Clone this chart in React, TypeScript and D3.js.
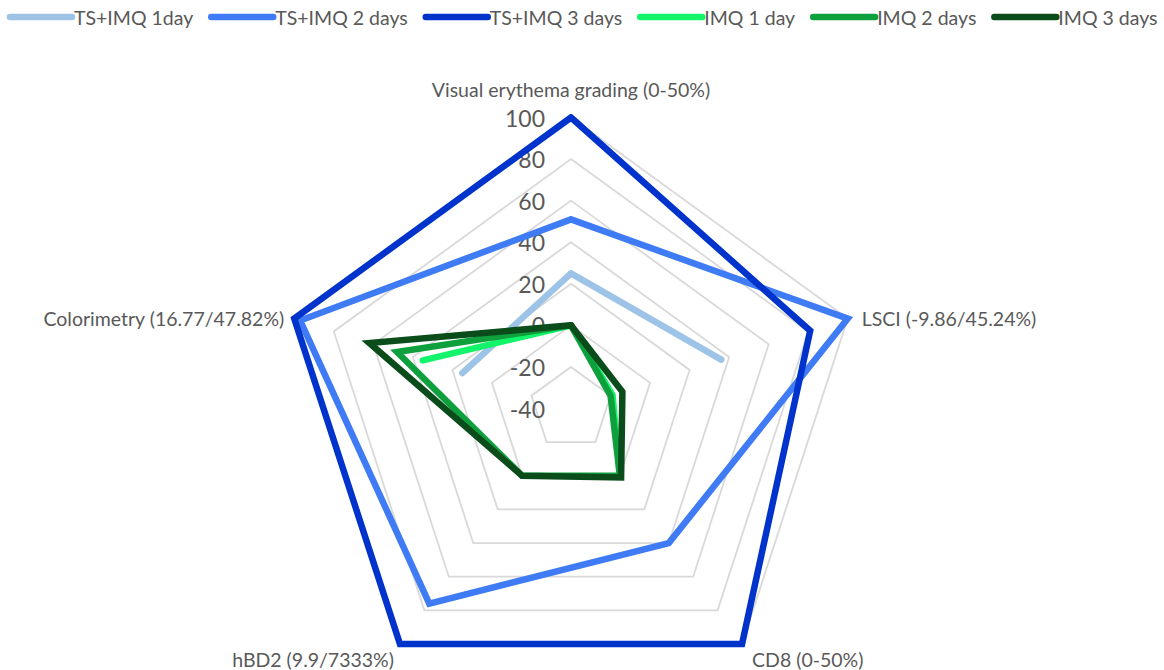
import React from "react";
import * as d3 from "d3";

const axes = [
  "Visual erythema grading (0-50%)",
  "LSCI (-9.86/45.24%)",
  "CD8 (0-50%)",
  "hBD2 (9.9/7333%)",
  "Colorimetry (16.77/47.82%)",
];
const seriesNames = ["TS+IMQ 1day", "TS+IMQ 2 days", "TS+IMQ 3 days", "IMQ 1 day", "IMQ 2 days", "IMQ 3 days"];
const seriesColors = ["#9DC3E6", "#3F7BF5", "#0033CC", "#12F56A", "#0FA03E", "#0A4D1B"];
const tsImq1 = [25, 36, null, null, 15];
const tsImq2 = [51, 100, 40, 76, 97];
const tsImq3 = [100, 81, 100, 100, 100];
const imq1 = [0, -19, 0, null, 35];
const imq2 = [0, -20, 0, 0, 48];
const imq3 = [0, -14, 1, 0, 62];
const seriesValues: (number | null)[][] = [tsImq1, tsImq2, tsImq3, imq1, imq2, imq3];
const ticks = [-40, -20, 0, 20, 40, 60, 80, 100];

const W = 1164, H = 670;
const cx = 571, cy = 408.5, R = 291;
const FONT = "Lato, 'Open Sans', sans-serif";
const LABEL_SIZE = 19.5;

function measure(text: string, font: string) {
  const c = document.createElement("canvas").getContext("2d")!;
  c.font = font;
  return c.measureText(text).width;
}

export default function App() {
  const r = d3.scaleLinear().domain([-40, 100]).range([0, R]);
  const n = axes.length;
  const ang = (i: number) => (i * 2 * Math.PI) / n;
  const pt = (i: number, v: number): [number, number] => [
    cx + r(v) * Math.sin(ang(i)),
    cy - r(v) * Math.cos(ang(i)),
  ];

  const lineGen = d3
    .lineRadial<number | null>()
    .angle((_, i) => ang(i % n))
    .radius((d) => r(d as number))
    .defined((d) => d !== null)
    .curve(d3.curveLinear);

  const ringGen = d3
    .lineRadial<number>()
    .angle((_, i) => ang(i))
    .radius((d) => r(d))
    .curve(d3.curveLinearClosed);

  // legend layout
  const legendFont = `${LABEL_SIZE}px ${FONT}`;
  const items: { x: number; name: string; color: string }[] = [];
  let x = 10;
  seriesNames.forEach((name, i) => {
    items.push({ x, name, color: seriesColors[i] });
    x += 62 + 2 + measure(name, legendFont) + 18;
  });

  const labelPos = (i: number) => {
    const [px, py] = pt(i, 100);
    if (i === 0) return { x: px, y: py - 28, anchor: "middle" };
    if (i === 1) return { x: px + 14, y: py, anchor: "start" };
    if (i === 2) return { x: px + 10, y: py + 16, anchor: "start" };
    if (i === 3) return { x: px - 6, y: py + 16, anchor: "end" };
    return { x: px - 10, y: py, anchor: "end" };
  };

  return (
    <svg width={W} height={H} style={{ position: "absolute", left: 0, top: 0, background: "#fff" }}>
      <rect width={W} height={H} fill="#fff" />
      {/* legend */}
      {items.map((it) => (
        <g key={it.name}>
          <line x1={it.x} x2={it.x + 62} y1={17} y2={17} stroke={it.color} strokeWidth={6.5} strokeLinecap="round" />
          <text x={it.x + 64} y={17} dominantBaseline="central" fontFamily={FONT} fontSize={LABEL_SIZE} fill="#595959">
            {it.name}
          </text>
        </g>
      ))}
      {/* grid rings */}
      <g transform={`translate(${cx},${cy})`}>
        {ticks.slice(1).map((t) => (
          <path key={t} d={ringGen(d3.range(n).map(() => t)) as string} fill="none" stroke="#D9D9D9" strokeWidth={1.8} />
        ))}
      </g>
      {/* tick labels */}
      {ticks.map((t) => (
        <text key={t} x={cx - 26} y={cy - r(t)} textAnchor="end" dominantBaseline="central" fontFamily={FONT} fontSize={23} fill="#595959">
          {t}
        </text>
      ))}
      {/* axis labels */}
      {axes.map((a, i) => {
        const p = labelPos(i);
        return (
          <text key={a} x={p.x} y={p.y} textAnchor={p.anchor as any} dominantBaseline="central" fontFamily={FONT} fontSize={LABEL_SIZE} fill="#595959">
            {a}
          </text>
        );
      })}
      {/* series */}
      <g transform={`translate(${cx},${cy})`}>
        {seriesValues.map((vals, si) => (
          <path
            key={si}
            d={lineGen([...vals, vals[0]]) as string}
            fill="none"
            stroke={seriesColors[si]}
            strokeWidth={6.5}
            strokeLinejoin="miter"
            strokeLinecap="round"
          />
        ))}
      </g>
    </svg>
  );
}
